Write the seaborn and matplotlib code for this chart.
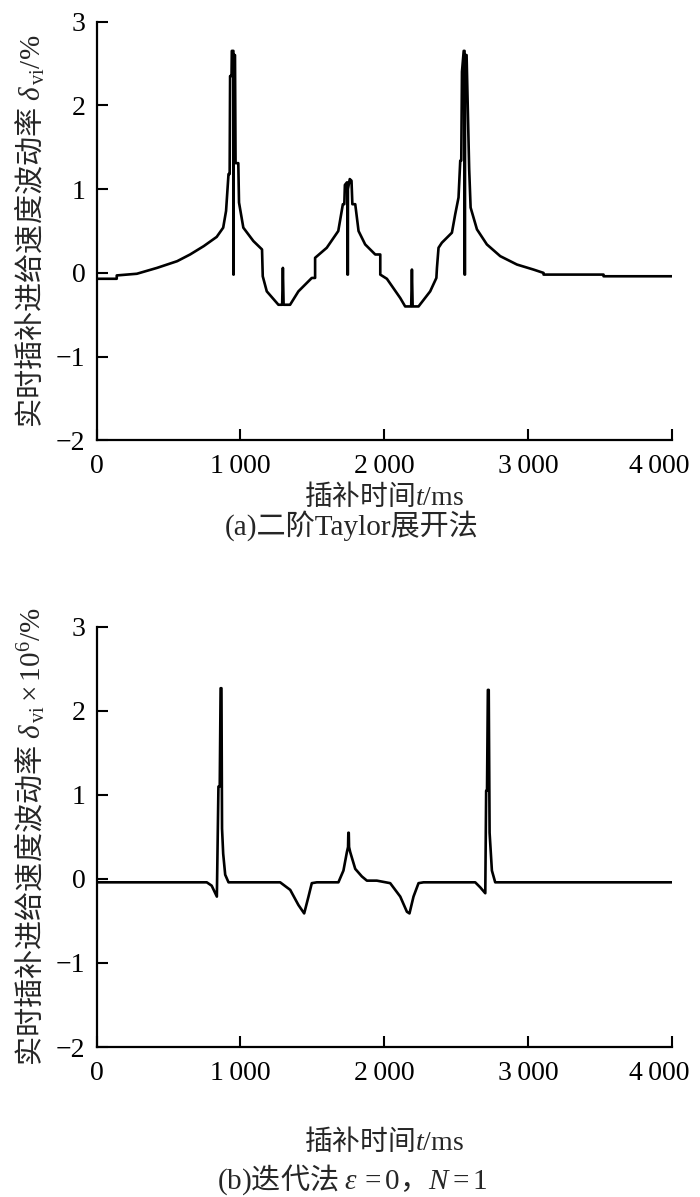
import matplotlib
matplotlib.use("Agg")
import matplotlib.pyplot as plt
import matplotlib.transforms as mtransforms
import seaborn as sns
import pandas as pd

# (a) second-order Taylor expansion: time (ms) and fluctuation rate (%)
t_taylor = [0, 140, 140, 280, 420, 560, 650, 745, 835, 880, 900, 917, 925, 928, 938, 940,
            948, 951, 951, 953, 953, 962, 966, 985, 990, 1020, 1090, 1150, 1155, 1183,
            1264, 1290, 1295, 1300, 1322, 1345, 1403, 1496, 1519, 1519, 1600, 1680, 1712,
            1722, 1726, 1740, 1744, 1744, 1747, 1747, 1760, 1772, 1778, 1798, 1821, 1867,
            1937, 1972, 1972, 2018, 2111, 2145, 2187, 2192, 2197, 2238, 2319, 2362, 2366,
            2377, 2400, 2470, 2493, 2516, 2528, 2535, 2540, 2552, 2558, 2558, 2561, 2561,
            2572, 2590, 2600, 2644, 2713, 2806, 2922, 3037, 3107, 3107, 3524, 3524, 4000]
v_taylor = [-0.07, -0.07, -0.03, -0.01, 0.06, 0.14, 0.22, 0.32, 0.43, 0.54, 0.74, 1.18, 1.18, 2.35, 2.35, 2.65,
            2.65, 2.65, -0.02, -0.02, 2.6, 2.6, 1.31, 1.31, 0.84, 0.54, 0.38, 0.28, -0.04, -0.22,
            -0.38, -0.38, 0.06, -0.38, -0.38, -0.38, -0.22, -0.06, -0.06, 0.18, 0.30, 0.50, 0.82,
            0.82, 1.05, 1.08, 1.08, -0.02, -0.02, 1.0, 1.12, 1.1, 0.82, 0.82, 0.50, 0.34,
            0.22, 0.22, -0.02, -0.07, -0.30, -0.40, -0.40, 0.04, -0.40, -0.40, -0.22, -0.06, 0.06,
            0.30, 0.36, 0.48, 0.70, 0.90, 1.34, 1.34, 2.4, 2.65, 2.65, -0.02, -0.02, 2.6,
            2.6, 1.24, 0.78, 0.52, 0.34, 0.20, 0.10, 0.04, 0.0, -0.02, -0.02, -0.04, -0.04]

# (b) iterative method, values x 10^6 (%)
t_iter = [0, 766, 800, 836, 847, 856, 862, 868, 872, 880, 894, 917, 1276, 1346, 1403, 1443,
          1473, 1496, 1531, 1681, 1716, 1740, 1748, 1750, 1753, 1755, 1763, 1798, 1844, 1879,
          1948, 2041, 2111, 2157, 2175, 2203, 2238, 2273, 2632, 2667, 2702, 2708, 2714, 2720,
          2726, 2732, 2748, 2771, 4000]
v_iter = [-0.04, -0.04, -0.08, -0.21, 1.1, 1.1, 2.27, 2.27, 0.6, 0.3, 0.05, -0.04, -0.04, -0.13, -0.31, -0.41,
          -0.21, -0.05, -0.04, -0.04, 0.10, 0.32, 0.38, 0.55, 0.55, 0.38, 0.32, 0.12, 0.03, -0.02,
          -0.02, -0.05, -0.21, -0.39, -0.41, -0.21, -0.05, -0.04, -0.04, -0.10, -0.17, 1.05, 1.05, 2.25,
          2.25, 0.55, 0.10, -0.04, -0.04]

x_ticks = [0, 1000, 2000, 3000, 4000]
x_tick_labels = ["0", "1\u2009000", "2\u2009000", "3\u2009000", "4\u2009000"]
y_ticks = [-2, -1, 0, 1, 2, 3]
y_tick_labels = ["\u22122", "\u22121", "0", "1", "2", "3"]

sns.set_theme(style="ticks")
plt.rcParams["font.family"] = ["Liberation Serif", "Noto Sans CJK SC"]
plt.rcParams["mathtext.fontset"] = "custom"
plt.rcParams["mathtext.rm"] = "Liberation Serif"
plt.rcParams["mathtext.it"] = "Liberation Serif:italic"
plt.rcParams["mathtext.bf"] = "Liberation Serif:bold"

CJK = "Noto Sans CJK SC"

fig = plt.figure(figsize=(7, 11.97), dpi=100)
ax_a = fig.add_axes([0.138, 0.632, 0.822, 0.350])
ax_b = fig.add_axes([0.138, 0.1253, 0.822, 0.351])

panels = [
    (ax_a, t_taylor, v_taylor,
     "实时插补进给速度波动率 $\\delta_{\\,\\mathrm{vi}}\\mathrm{/\\%}$",
     "(a)二阶Taylor展开法", None, 0.5605, -0.098),
    (ax_b, t_iter, v_iter,
     "实时插补进给速度波动率 $\\delta_{\\,\\mathrm{vi}}\\times\\mathrm{10^6/\\%}$",
     "$\\mathrm{(b)}$迭代法 $\\varepsilon\\mathrm{\\,=0}$，$N\\mathrm{=1}$", CJK, 0.0145, -0.19),
]

for ax, t, v, ylab, caption, cap_family, cap_y, xlab_y in panels:
    df = pd.DataFrame({"t": t, "v": v})
    sns.lineplot(data=df, x="t", y="v", ax=ax, color="black", linewidth=1.9,
                 sort=False, estimator=None)
    ax.set_xlim(0, 4000)
    ax.set_ylim(-2, 3)
    ax.set_xticks(x_ticks, x_tick_labels)
    ax.set_yticks(y_ticks, y_tick_labels)
    ax.tick_params(direction="in", length=8, width=1.5, labelsize=20, colors="black")
    ax.tick_params(axis="x", pad=10)
    ax.tick_params(axis="y", pad=8)
    # last x label sits a little left of its tick, as in the scan
    last = ax.get_xticklabels()[-1]
    last.set_transform(last.get_transform() +
                       mtransforms.ScaledTranslation(-9 / 72, 0, fig.dpi_scale_trans))
    sns.despine(ax=ax)
    for s in ["left", "bottom"]:
        ax.spines[s].set_linewidth(1.6)
        ax.spines[s].set_color("black")
    ax.set_xlabel("插补时间$t\\mathrm{/ms}$", fontsize=20, family=CJK, fontweight="medium")
    ax.xaxis.set_label_coords(0.5, xlab_y)
    ax.set_ylabel(ylab, fontsize=21, family=CJK, fontweight="medium")
    ax.yaxis.set_label_coords(-0.085, 0.5)
    if cap_family:
        fig.text(0.503, cap_y, caption, ha="center", va="center", fontsize=21,
                 family=cap_family, fontweight="medium")
    else:
        fig.text(0.503, cap_y, caption, ha="center", va="center", fontsize=21, fontweight="medium")

plt.savefig("out.png", dpi=100)
plt.close()
